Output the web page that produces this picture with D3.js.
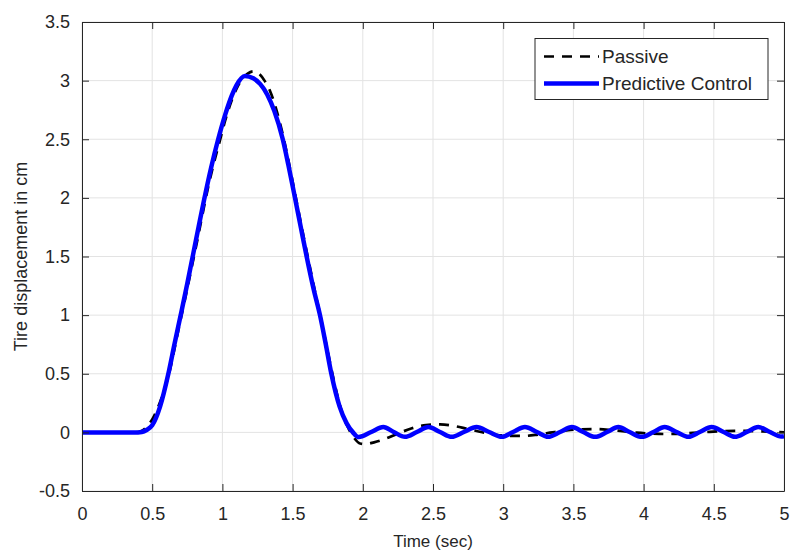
<!DOCTYPE html>
<html>
<head>
<meta charset="utf-8">
<script src="https://cdn.jsdelivr.net/npm/d3@7"></script>
<style>
  body { margin: 0; background: #fff; }
  text { font-family: "Liberation Sans", Arial, Helvetica, sans-serif; fill: #262626; }
</style>
</head>
<body>
<div id="chart"></div>
<script>
// time (sec) / displacement (cm)
var passiveT = [0, 0.38, 0.42, 0.46, 0.50, 0.54, 0.58, 0.62, 0.66, 0.70, 0.74, 0.78, 0.82, 0.86, 0.90, 0.94, 0.98,
  1.02, 1.06, 1.10, 1.14, 1.18, 1.22, 1.26, 1.30, 1.34, 1.38, 1.42, 1.46, 1.50, 1.54, 1.58, 1.62, 1.66, 1.70,
  1.74, 1.78, 1.82, 1.86, 1.90, 1.94, 1.98, 2.02, 2.08, 2.15, 2.25, 2.35, 2.45, 2.55, 2.65, 2.75, 2.85, 2.95,
  3.05, 3.15, 3.25, 3.35, 3.45, 3.55, 3.65, 3.75, 3.85, 3.95, 4.05, 4.15, 4.25, 4.35, 4.45, 4.55, 4.65, 4.75,
  4.85, 4.95, 5.0];
var passiveV = [0, 0, 0.01, 0.045, 0.11, 0.21, 0.34, 0.50, 0.72, 0.95, 1.17, 1.40, 1.63, 1.87, 2.10, 2.30, 2.48,
  2.66, 2.81, 2.93, 3.01, 3.06, 3.08, 3.06, 3.00, 2.91, 2.77, 2.59, 2.38, 2.14, 1.90, 1.66, 1.43, 1.20, 0.98,
  0.75, 0.52, 0.31, 0.14, 0.03, -0.05, -0.095, -0.10, -0.085, -0.06, -0.01, 0.035, 0.062, 0.068, 0.055, 0.028, 0.002, -0.02,
  -0.03, -0.03, -0.018, 0.0, 0.016, 0.026, 0.028, 0.022, 0.01, -0.002, -0.01, -0.014, -0.012, -0.005, 0.003, 0.01, 0.013, 0.012,
  0.008, 0.003, 0.001];

var controlT = [0, 0.40, 0.425, 0.46, 0.50, 0.556, 0.615, 0.66, 0.71, 0.75, 0.79, 0.83, 0.869, 0.92, 0.97,
  1.02, 1.066, 1.10, 1.16, 1.22, 1.27, 1.32, 1.37, 1.43, 1.47, 1.517, 1.56, 1.60, 1.65, 1.695, 1.735, 1.776,
  1.835, 1.885, 1.93, 1.97, 2.06, 2.146, 2.22, 2.30, 2.385, 2.467, 2.55, 2.633, 2.72, 2.81, 2.90, 2.99, 3.07,
  3.155, 3.24, 3.32, 3.405, 3.49, 3.57, 3.655, 3.74, 3.82, 3.90, 3.987, 4.07, 4.15, 4.235, 4.32, 4.40, 4.485,
  4.57, 4.65, 4.735, 4.817, 4.90, 4.98, 5.0];
var controlV = [0, 0, 0.003, 0.02, 0.06, 0.22, 0.5, 0.76, 1.04, 1.27, 1.51, 1.75, 1.98, 2.26, 2.50,
  2.71, 2.87, 2.96, 3.04, 3.02, 2.97, 2.88, 2.74, 2.50, 2.28, 2.0, 1.74, 1.5, 1.22, 1.0, 0.76, 0.5,
  0.22, 0.077, 0.0, -0.04, 0.003, 0.045, 0.003, -0.038, 0.003, 0.045, 0.003, -0.038, 0.003, 0.045, 0.003, -0.038, 0.003,
  0.045, 0.003, -0.038, 0.003, 0.045, 0.003, -0.038, 0.003, 0.045, 0.003, -0.038, 0.003, 0.045, 0.003, -0.038, 0.003, 0.045,
  0.003, -0.038, 0.003, 0.045, 0.003, -0.036, -0.033];

var xTicks = [0, 0.5, 1, 1.5, 2, 2.5, 3, 3.5, 4, 4.5, 5];
var yTicks = [-0.5, 0, 0.5, 1, 1.5, 2, 2.5, 3, 3.5];
var seriesNames = ["Passive", "Predictive Control"];

var W = 791, H = 550;
var margin = {top: 22, right: 7, bottom: 59, left: 82};
var width = W - margin.left - margin.right,
    height = H - margin.top - margin.bottom;

var svg = d3.select("#chart").append("svg")
  .attr("width", W).attr("height", H);
var g = svg.append("g")
  .attr("transform", "translate(" + margin.left + "," + margin.top + ")");

var x = d3.scaleLinear().domain([0, 5]).range([0, width]);
var y = d3.scaleLinear().domain([-0.5, 3.5]).range([height, 0]);

// grid
g.append("g").selectAll("line").data(xTicks).enter().append("line")
  .attr("x1", d => x(d)).attr("x2", d => x(d))
  .attr("y1", 0).attr("y2", height)
  .attr("stroke", "#e3e3e3").attr("stroke-width", 1);
g.append("g").selectAll("line").data(yTicks).enter().append("line")
  .attr("y1", d => y(d)).attr("y2", d => y(d))
  .attr("x1", 0).attr("x2", width)
  .attr("stroke", "#e3e3e3").attr("stroke-width", 1);

// curves
var line = d3.line()
  .x(d => x(d[0])).y(d => y(d[1]))
  .curve(d3.curveMonotoneX);

var plot = g.append("g");
plot.append("path")
  .datum(d3.zip(passiveT, passiveV))
  .attr("d", line)
  .attr("fill", "none").attr("stroke", "#000")
  .attr("stroke-width", 2.7).attr("stroke-dasharray", "10,8");
plot.append("path")
  .datum(d3.zip(controlT, controlV))
  .attr("d", line)
  .attr("fill", "none").attr("stroke", "#0000ff")
  .attr("stroke-width", 4.5).attr("stroke-linejoin", "round");

// axes (ticks inside, on all four sides)
function styleAxis(sel) {
  sel.select(".domain").attr("stroke", "#262626");
  sel.selectAll(".tick line").attr("stroke", "#262626");
  sel.selectAll(".tick text").style("font-size", "18px").attr("fill", "#262626");
}
var fmt = function(d) { return String(d); };   // plain hyphen for negatives
g.append("g").attr("transform", "translate(0," + height + ")")
  .call(d3.axisBottom(x).tickValues(xTicks).tickFormat(fmt).tickSizeInner(-7).tickSizeOuter(0).tickPadding(16))
  .call(styleAxis);
g.append("g")
  .call(d3.axisLeft(y).tickValues(yTicks).tickFormat(fmt).tickSizeInner(-7).tickSizeOuter(0).tickPadding(12))
  .call(styleAxis);
g.append("g")
  .call(d3.axisTop(x).tickValues(xTicks).tickFormat("").tickSizeInner(-7).tickSizeOuter(0))
  .call(styleAxis);
g.append("g").attr("transform", "translate(" + width + ",0)")
  .call(d3.axisRight(y).tickValues(yTicks).tickFormat("").tickSizeInner(-7).tickSizeOuter(0))
  .call(styleAxis);

// axis labels
svg.append("text")
  .attr("x", margin.left + width / 2).attr("y", 547)
  .attr("text-anchor", "middle").style("font-size", "17px")
  .text("Time (sec)");
svg.append("text")
  .attr("transform", "translate(27," + (margin.top + height / 2) + ") rotate(-90)")
  .attr("text-anchor", "middle").style("font-size", "18px")
  .text("Tire displacement in cm");

// legend
var leg = svg.append("g").attr("transform", "translate(535,38.5)");
leg.append("rect").attr("width", 233).attr("height", 61)
  .attr("fill", "#fff").attr("stroke", "#262626").attr("stroke-width", 1);
var legStyles = [
  {stroke: "#000", w: 2.7, dash: "10,8"},
  {stroke: "#0000ff", w: 4.5, dash: null}
];
seriesNames.forEach(function(name, i) {
  var yy = 18 + i * 27;
  leg.append("line")
    .attr("x1", 9).attr("x2", 64).attr("y1", yy).attr("y2", yy)
    .attr("stroke", legStyles[i].stroke).attr("stroke-width", legStyles[i].w)
    .attr("stroke-dasharray", legStyles[i].dash);
  leg.append("text")
    .attr("x", 67).attr("y", yy).attr("dy", "0.35em")
    .style("font-size", "19px").attr("fill", "#000")
    .text(name);
});
</script>
</body>
</html>
